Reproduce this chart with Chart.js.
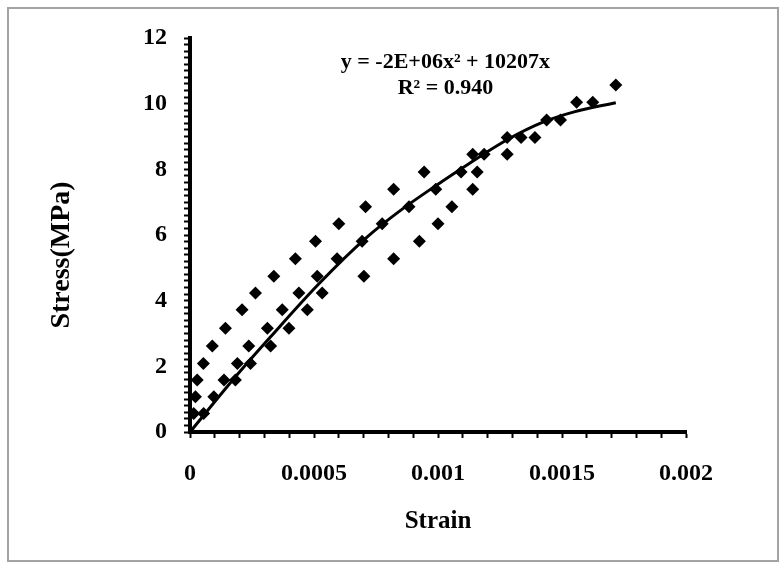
<!DOCTYPE html>
<html>
<head>
<meta charset="utf-8">
<title>Stress vs Strain</title>
<script src="https://cdn.jsdelivr.net/npm/chart.js@4.4.1/dist/chart.umd.min.js"></script>
<style>
  html, body { margin: 0; padding: 0; background: #fff; }
  canvas { display: block; }
</style>
</head>
<body>
<canvas id="chart" width="779" height="564"></canvas>
<script>
// values: three branches of test points + the trend line
const upperStrain = [0, 0.000015, 0.000022, 0.000029, 0.000054, 0.00009, 0.000143, 0.00021, 0.000264, 0.000338, 0.000425, 0.000506, 0.0006, 0.000708, 0.000821, 0.000944, 0.00114, 0.001279, 0.001438, 0.001559, 0.001717];
const upperStress = [0, 0.56, 1.07, 1.58, 2.09, 2.62, 3.16, 3.72, 4.23, 4.74, 5.28, 5.81, 6.34, 6.86, 7.39, 7.92, 8.46, 8.97, 9.5, 10.04, 10.57];

const middleStrain = [0.000055, 0.000096, 0.000137, 0.000191, 0.000237, 0.000312, 0.000372, 0.000439, 0.000513, 0.000593, 0.000694, 0.000775, 0.000883, 0.000991, 0.001093, 0.001186, 0.001335, 0.001494, 0.001624];
const middleStress = [0.56, 1.07, 1.58, 2.09, 2.62, 3.16, 3.72, 4.23, 4.74, 5.28, 5.81, 6.34, 6.86, 7.39, 7.92, 8.46, 8.97, 9.5, 10.04];

const rightStrain = [0.000183, 0.000244, 0.000325, 0.000399, 0.000473, 0.000533, 0.000701, 0.000821, 0.000925, 0.001, 0.001056, 0.00114, 0.001158, 0.001279, 0.001391];
const rightStress = [1.58, 2.09, 2.62, 3.16, 3.72, 4.23, 4.74, 5.28, 5.81, 6.34, 6.86, 7.39, 7.92, 8.46, 8.97];

const fitStrain = [0, 0.000191, 0.000325, 0.000518, 0.000716, 0.000849, 0.000981, 0.00112, 0.001279, 0.001428, 0.001549, 0.001717];
const fitStress = [0, 1.75, 2.9, 4.5, 5.95, 6.75, 7.45, 8.15, 8.9, 9.45, 9.75, 10.03];

const xMajorTicks = [0, 0.0005, 0.001, 0.0015, 0.002];
const yMajorTicks = [0, 2, 4, 6, 8, 10, 12];

const equationText = 'y = -2E+06x\u00B2 + 10207x';
const r2Text = 'R\u00B2 = 0.940';

const serif = "'Liberation Serif', 'Times New Roman', serif";

function toPoints(xs, ys) {
    return xs.map((v, i) => ({ x: v, y: ys[i] }));
}

function isMajor(value, list) {
    return list.some(m => Math.abs(m - value) < 1e-9);
}

const markerStyle = {
    showLine: false,
    pointStyle: 'rectRot',
    pointRadius: 6.5,
    pointBackgroundColor: '#000',
    pointBorderWidth: 0
};

// frame, equation and y title
const extras = {
    id: 'extras',
    beforeDraw(chart) {
        const ctx = chart.ctx;
        ctx.save();
        ctx.fillStyle = '#fff';
        ctx.fillRect(0, 0, chart.width, chart.height);
        ctx.strokeStyle = '#a3a3a3';
        ctx.lineWidth = 2;
        ctx.strokeRect(8, 8, 770, 553);
        ctx.restore();
    },
    afterDraw(chart) {
        const { ctx, scales: { x, y } } = chart;
        ctx.save();
        ctx.fillStyle = '#000';
        ctx.textAlign = 'center';
        ctx.textBaseline = 'middle';
        ctx.font = 'bold 22px ' + serif;
        const cx = x.getPixelForValue(0.00103);
        ctx.fillText(equationText, cx, y.getPixelForValue(11.25));
        ctx.fillText(r2Text, cx, y.getPixelForValue(10.48));

        ctx.translate(62, 255);
        ctx.rotate(-Math.PI / 2);
        ctx.font = 'bold 28px ' + serif;
        ctx.fillText('Stress(MPa)', 0, 0);
        ctx.restore();
    }
};

const tickFont = { family: serif, size: 24, weight: 'bold' };

new Chart(document.getElementById('chart').getContext('2d'), {
    type: 'scatter',
    data: {
        datasets: [
            {
                label: 'fit',
                data: toPoints(fitStrain, fitStress),
                showLine: true,
                pointRadius: 0,
                borderColor: '#000',
                borderWidth: 3,
                cubicInterpolationMode: 'monotone'
            },
            Object.assign({ label: 'upper', data: toPoints(upperStrain, upperStress) }, markerStyle),
            Object.assign({ label: 'middle', data: toPoints(middleStrain, middleStress) }, markerStyle),
            Object.assign({ label: 'right', data: toPoints(rightStrain, rightStress) }, markerStyle)
        ]
    },
    options: {
        responsive: false,
        animation: false,
        devicePixelRatio: 1,
        events: [],
        layout: { padding: { left: 10, right: 93, top: 38, bottom: 0 } },
        plugins: { legend: { display: false }, tooltip: { enabled: false } },
        scales: {
            x: {
                type: 'linear',
                min: 0,
                max: 0.002,
                afterFit: s => { s.height = 132; },
                border: { color: '#000', width: 4 },
                grid: { drawOnChartArea: false, tickLength: 6, tickColor: '#000', tickWidth: 2 },
                ticks: {
                    stepSize: 0.0001,
                    autoSkip: false,
                    maxRotation: 0,
                    color: '#000',
                    font: tickFont,
                    padding: 21,
                    callback: v => isMajor(v, xMajorTicks) ? String(Number(v.toFixed(5))) : ''
                },
                title: {
                    display: true,
                    text: 'Strain',
                    color: '#000',
                    font: { family: serif, size: 25, weight: 'bold' },
                    padding: { top: 0, bottom: 27 }
                }
            },
            y: {
                min: 0,
                max: 12,
                afterFit: s => { s.width = 180; },
                border: { color: '#000', width: 4 },
                grid: { drawOnChartArea: false, tickLength: 6, tickColor: '#000', tickWidth: 2 },
                ticks: {
                    stepSize: 0.2,
                    autoSkip: false,
                    color: '#000',
                    font: tickFont,
                    padding: 17,
                    callback: v => isMajor(v, yMajorTicks) ? String(Math.round(v)) : ''
                }
            }
        }
    },
    plugins: [extras]
});
</script>
</body>
</html>
